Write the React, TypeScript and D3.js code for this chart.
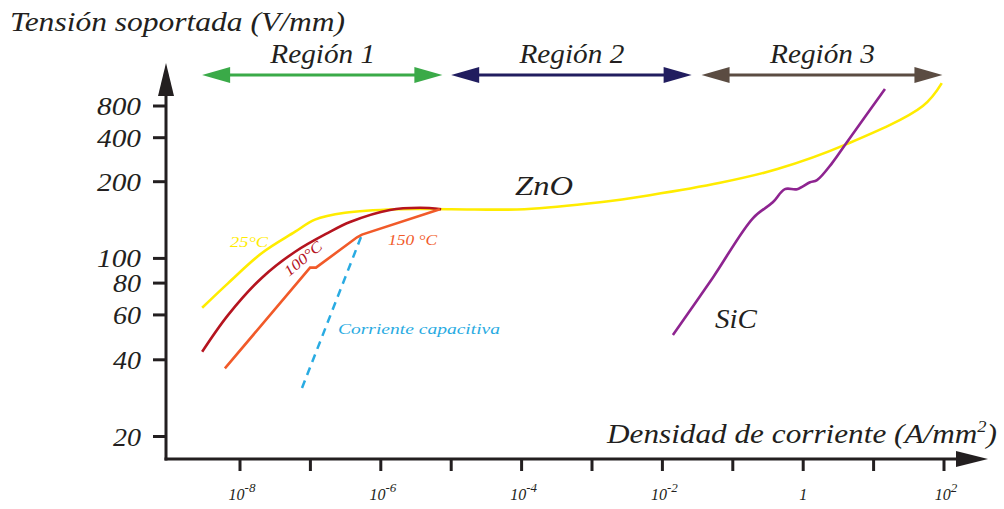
import React from 'react';
import * as d3 from 'd3';

// densidad de corriente (A/mm2) vs tension soportada (V/mm)
const zno25: [number, number][] = [
  [2.9e-9, 64], [6.8e-9, 80], [2.05e-8, 105], [6e-8, 127], [1.16e-7, 142], [3.1e-7, 151],
  [1.7e-6, 156], [1e-5, 156], [1.1e-4, 156], [1.3e-3, 166], [6.6e-3, 177], [0.066, 198],
  [0.43, 244], [3.9, 357], [50, 800], [93, 1320],
];
const zno100: [number, number][] = [
  [2.9e-9, 43], [6.8e-9, 60], [2.05e-8, 84], [6e-8, 106], [1.78e-7, 126], [3.65e-7, 139],
  [1.35e-6, 155], [3.6e-6, 158], [7.2e-6, 156],
];
const zno150: [number, number][] = [
  [6.1e-9, 37], [9.9e-8, 92], [1.2e-7, 92], [4.6e-7, 121], [5.4e-7, 124], [6.9e-6, 156],
];
const capacitiva: [number, number][] = [[7.6e-8, 31], [5.4e-7, 124]];
const sic: [number, number][] = [
  [0.0141, 50], [0.052, 84], [0.194, 144], [0.37, 166], [0.55, 187], [0.82, 187],
  [1.25, 199], [1.57, 205], [2.57, 268], [4.2, 374], [14.5, 1160],
];

const yTicks = [20, 40, 60, 80, 100, 200, 400, 800];
const xTicks = [1e-8, 1e-7, 1e-6, 1e-5, 1e-4, 1e-3, 1e-2, 1e-1, 1, 10, 100];
const xLabels = [-8, -6, -4, -2, 0, 2];
const regions = [
  { name: 'Región 1', from: 2.9e-9, to: 7.5e-6, color: '#3aaa48' },
  { name: 'Región 2', from: 1e-5, to: 2.6e-2, color: '#211d5f' },
  { name: 'Región 3', from: 3.6e-2, to: 95, color: '#5b4c42' },
];

const font = '"Liberation Serif", serif';
const ink = '#231f20';
const fit = 'spacingAndGlyphs';

export default function App() {
  const x = d3.scaleLog().domain([1e-8, 1e2]).range([240, 944]);
  // eje vertical no uniforme en la figura original
  const y = d3.scaleLog().domain([20, 200, 400, 800]).range([436.5, 181.7, 137.7, 106]);

  const smooth = d3.line<[number, number]>().x(d => x(d[0])).y(d => y(d[1])).curve(d3.curveCatmullRom.alpha(0.5));
  const straight = d3.line<[number, number]>().x(d => x(d[0])).y(d => y(d[1]));

  const x0 = 166, yAxis = 459;
  const arrowY = 75;

  return (
    <svg width={1004} height={509} style={{ position: 'absolute', left: 0, top: 0, background: '#fff' }}
      fontFamily={font} fontStyle="italic">
      {/* titulos */}
      <text x={10} y={31} fontSize={27} fill={ink} textLength={335} lengthAdjust={fit}>Tensión soportada (V/mm)</text>
      <text x={607} y={443} fontSize={27} fill={ink} textLength={390} lengthAdjust={fit}>
        Densidad de corriente (A/mm<tspan fontSize={16} dy={-11}>2</tspan><tspan dy={11}>)</tspan>
      </text>

      {/* regiones */}
      {regions.map(r => {
        const a = x(r.from), b = x(r.to);
        return (
          <g key={r.name}>
            <line x1={a + 20} x2={b - 20} y1={arrowY} y2={arrowY} stroke={r.color} strokeWidth={3} />
            <path d={`M${a},${arrowY}L${a + 28},${arrowY - 8}L${a + 28},${arrowY + 8}Z`} fill={r.color} />
            <path d={`M${b},${arrowY}L${b - 28},${arrowY - 8}L${b - 28},${arrowY + 8}Z`} fill={r.color} />
            <text x={(a + b) / 2 - 52} y={63} fontSize={27} fill={ink} textLength={105} lengthAdjust={fit}>{r.name}</text>
          </g>
        );
      })}

      {/* ejes */}
      <line x1={x0} x2={x0} y1={yAxis + 1.5} y2={92} stroke={ink} strokeWidth={3} />
      <path d={`M${x0},63L${x0 - 8},96L${x0 + 8},96Z`} fill={ink} />
      <line x1={x0 - 1.5} x2={960} y1={yAxis} y2={yAxis} stroke={ink} strokeWidth={3} />
      <path d={`M988,${yAxis}L956,${yAxis - 8}L956,${yAxis + 8}Z`} fill={ink} />

      {yTicks.map(t => (
        <g key={t}>
          <line x1={x0 - 13} x2={x0} y1={y(t)} y2={y(t)} stroke={ink} strokeWidth={3} />
          <text x={141} y={y(t) + 9} fontSize={25} textAnchor="end" fill={ink}
            textLength={t >= 100 ? 44 : 28} lengthAdjust={fit}>{t}</text>
        </g>
      ))}
      {xTicks.map(t => (
        <line key={t} x1={x(t)} x2={x(t)} y1={yAxis} y2={yAxis + 12} stroke={ink} strokeWidth={3} />
      ))}
      {xLabels.map(e => (
        <text key={e} x={x(Math.pow(10, e)) + (e === 0 ? 0 : 2)} y={500} fontSize={16} textAnchor="middle" fill={ink}>
          {e === 0 ? '1' : <>10<tspan fontSize={13} dy={-8}>{e}</tspan></>}
        </text>
      ))}

      {/* curvas */}
      <path d={straight(capacitiva)!} fill="none" stroke="#29abe2" strokeWidth={2.5} strokeDasharray="8,6" />
      <path d={smooth(zno25)!} fill="none" stroke="#ffec00" strokeWidth={2.6} />
      <path d={smooth(zno100)!} fill="none" stroke="#b5141f" strokeWidth={2.6} />
      <path d={straight(zno150)!} fill="none" stroke="#f15a29" strokeWidth={2.6} />
      <path d={smooth(sic)!} fill="none" stroke="#8e2490" strokeWidth={2.6} />

      {/* etiquetas */}
      <text x={515} y={195} fontSize={27} fill={ink} textLength={58} lengthAdjust={fit}>ZnO</text>
      <text x={715} y={328} fontSize={27} fill={ink} textLength={42} lengthAdjust={fit}>SiC</text>
      <text x={230} y={247} fontSize={15} fill="#ffec00" textLength={38} lengthAdjust={fit}>25°C</text>
      <text x={289} y={277} fontSize={15} fill="#b5141f" transform="rotate(-40 289 277)"
        textLength={45} lengthAdjust={fit}>100°C</text>
      <text x={388} y={245} fontSize={15} fill="#f15a29" textLength={49} lengthAdjust={fit}>150 °C</text>
      <text x={338} y={334} fontSize={14} fill="#29abe2" textLength={162} lengthAdjust={fit}>Corriente capacitiva</text>
    </svg>
  );
}
